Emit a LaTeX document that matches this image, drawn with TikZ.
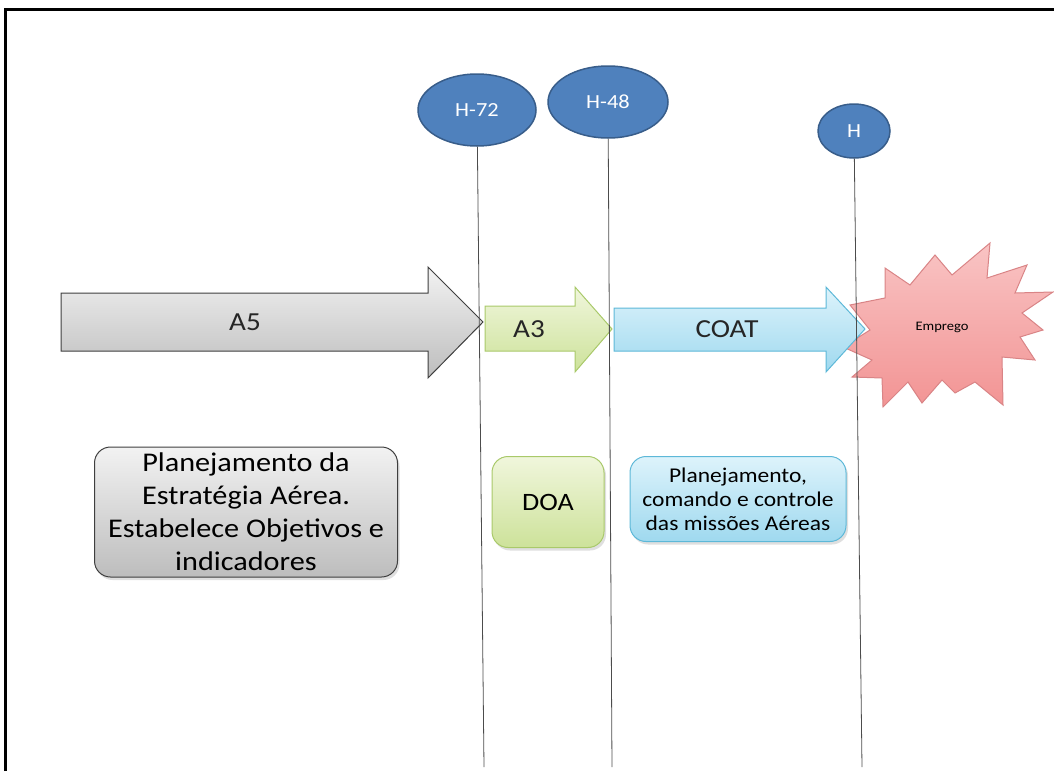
\documentclass[tikz,border=0pt]{standalone}
\usepackage{fontspec}
\setmainfont{Carlito}[FakeStretch=1.12]
\usepackage{xcolor}
\usetikzlibrary{shapes.geometric,shadows,positioning,calc}
\definecolor{hf}{HTML}{4F81BD}
\definecolor{hd}{HTML}{385D8A}
\definecolor{gt}{HTML}{F2F2F2}
\definecolor{gb}{HTML}{BDBDBD}
\definecolor{gd}{HTML}{3F3F3F}
\definecolor{vt}{HTML}{F0F6DC}
\definecolor{vb}{HTML}{CDE29A}
\definecolor{vd}{HTML}{A9C96A}
\definecolor{at}{HTML}{DDF3FB}
\definecolor{ab}{HTML}{9FD9EF}
\definecolor{ad}{HTML}{5DB8D8}
\definecolor{rt}{HTML}{F9C4C4}
\definecolor{rb}{HTML}{F29494}
\definecolor{rd}{HTML}{D98486}
\tikzset{
  hora/.style={ellipse, draw=hd, line width=1.5pt, fill=hf, text=white, inner sep=0pt, font=\fontsize{20}{24}\selectfont},
  marco/.style={draw=black!70, line width=0.8pt},
  rotulo/.style={inner sep=0pt, text=black!85, font=\fontsize{26}{30}\selectfont},
  caixa/.style={rounded corners=16pt, line width=1pt, align=center, inner sep=0pt,
    drop shadow={opacity=0.25, shadow xshift=2pt, shadow yshift=-3pt}},
}
\begin{document}
\begin{tikzpicture}[x=1pt,y=-1pt]
  \useasboundingbox (0,0) rectangle (1054,771);
  % moldura
  \draw[line width=3pt] (5,771) -- (5,9) -- (1054,9);

  % explosao
  \draw[line width=1pt, draw=rd, top color=rt, bottom color=rb]
    (850,305) -- (885,298) -- (885,268) -- (910,285) -- (935,255) -- (952,275)
    -- (990,243) -- (987,278) -- (1027,265) -- (1015,293) -- (1053,292) -- (1022,313)
    -- (1043,330) -- (1020,337) -- (1035,360) -- (1002,357) -- (1003,405) -- (975,382)
    -- (955,393) -- (942,380) -- (922,403) -- (908,382) -- (883,407) -- (882,378)
    -- (852,377) -- (872,360) -- (843,347) -- (870,330) -- cycle;
  \node[inner sep=0pt, font=\fontsize{13}{15}\selectfont] (emp) at (942,327) {Emprego};

  % setas
  \draw[line width=1pt, draw=gd, top color=gt, bottom color=gb]
    (61,293) -- (428,293) -- (428,267) -- (483,322) -- (428,378) -- (428,351) -- (61,351) -- cycle;
  \node[rotulo] (a5) at (245,322) {A5};
  \draw[line width=1pt, draw=vd, top color=vt, bottom color=vb]
    (485,306) -- (575,306) -- (575,287) -- (612,329) -- (575,372) -- (575,351) -- (485,351) -- cycle;
  \node[rotulo] (a3) at (529,329) {A3};
  \draw[line width=1pt, draw=ad, top color=at, bottom color=ab]
    (614,308) -- (826,308) -- (826,287) -- (865,329) -- (826,372) -- (826,351) -- (614,351) -- cycle;
  \node[rotulo] (coat) at (727,329) {COAT};

  % marcos de tempo
  \node[hora, minimum width=118pt, minimum height=72pt] (h72) at (477,110) {H-72};
  \node[hora, minimum width=120pt, minimum height=72pt] (h48) at (608,102) {H-48};
  \node[hora, minimum width=72pt, minimum height=54pt] (h) at (854,131) {H};
  \coordinate (f72) at (484,767);
  \coordinate (f48) at (612,767);
  \coordinate (fh) at (862,767);
  \draw[marco] (h72) -- (f72);
  \draw[marco] (h48) -- (f48);
  \draw[marco] (h) -- (fh);

  % caixas de texto
  \node[caixa, draw=gd, top color=gt, bottom color=gb, minimum width=303pt, minimum height=130pt,
    font=\fontsize{27}{33}\selectfont] (estr) at (246,512)
    {Planejamento da\\Estratégia Aérea.\\Estabelece Objetivos e\\indicadores};
  \node[caixa, draw=vd, top color=vt, bottom color=vb, minimum width=112pt, minimum height=91pt,
    font=\fontsize{25}{29}\selectfont] (doa) at (548,502) {DOA};
  \node[caixa, draw=ad, top color=at, bottom color=ab, minimum width=216pt, minimum height=85pt,
    font=\fontsize{21}{24}\selectfont] (pcc) at (738,499)
    {Planejamento,\\comando e controle\\das missões Aéreas};
\end{tikzpicture}
\end{document}
